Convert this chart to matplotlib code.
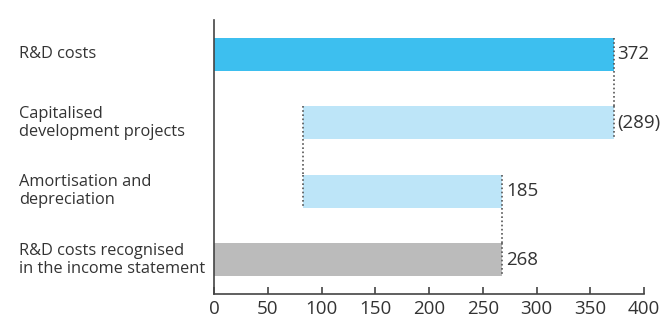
import matplotlib
matplotlib.use("Agg")
import matplotlib.pyplot as plt
from matplotlib.transforms import blended_transform_factory

categories = ["R&D costs", "Capitalised\ndevelopment projects",
              "Amortisation and\ndepreciation",
              "R&D costs recognised\nin the income statement"]
starts = [0, 83, 83, 0]
ends = [372, 372, 268, 268]
labels = ["372", "(289)", "185", "268"]
colors = ["#3dbfef", "#bde5f8", "#bde5f8", "#bbbbbb"]
xticks = [0, 50, 100, 150, 200, 250, 300, 350, 400]

plt.rcParams['font.family'] = ['Open Sans', 'DejaVu Sans']

fig = plt.figure(figsize=(6.62, 3.27), dpi=100)
ax = fig.add_axes([214/662, 33/327, 430/662, 274/327])

ypos = list(range(len(categories)))
h = 0.48
for y, s, e, c in zip(ypos, starts, ends, colors):
    ax.barh(y, e - s, left=s, height=h, color=c, zorder=2)

dot = dict(ls=(0, (1, 1.5)), color="#555555", lw=1.2, zorder=3)
for i in range(len(categories)):
    for x in (starts[i], ends[i]):
        if x == 0:
            continue
        ax.plot([x, x], [ypos[i] - h/2, ypos[i] + h/2], **dot)
for i in range(len(categories) - 1):
    shared = set([starts[i], ends[i]]) & set([starts[i+1], ends[i+1]])
    for x in shared:
        if x == 0:
            continue
        ax.plot([x, x], [ypos[i] + h/2, ypos[i+1] - h/2], **dot)

for y, e, lab in zip(ypos, ends, labels):
    ax.text(e + 3.5, y, lab, va="center", ha="left", fontsize=13.5, color="#333333")

ax.set_xlim(0, 400)
ax.set_ylim(3.5, -0.5)
ax.set_xticks(xticks)
ax.set_xticklabels([str(t) for t in xticks], fontsize=13.5, color="#333333")
ax.set_yticks([])
tr = blended_transform_factory(fig.transFigure, ax.transData)
for y, cat in zip(ypos, categories):
    ax.text(19/662, y, cat, transform=tr,
            ha="left", va="center", fontsize=11.8, color="#333333", linespacing=1.2)
ax.tick_params(axis="x", direction="in", length=5, width=1.2, color="#444444", pad=4)
for sp in ["top", "right"]:
    ax.spines[sp].set_visible(False)
for sp in ["left", "bottom"]:
    ax.spines[sp].set_color("#444444")
    ax.spines[sp].set_linewidth(1.2)

fig.savefig("out.png", dpi=100)
